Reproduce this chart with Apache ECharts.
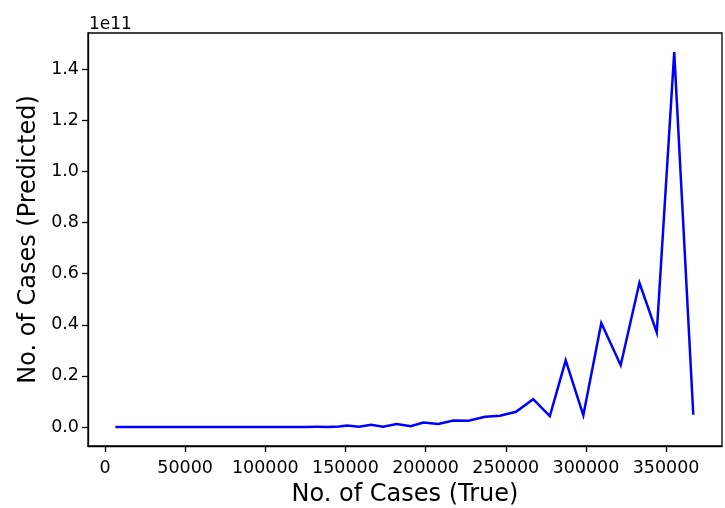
<!DOCTYPE html>
<html>
<head>
<meta charset="utf-8">
<script src="https://cdn.jsdelivr.net/npm/echarts@6/dist/echarts.min.js"></script>
<style>
  html, body { margin: 0; padding: 0; background: #fff; }
  #chart { width: 725px; height: 508px; }
</style>
</head>
<body>
<div id="chart"></div>
<script>
// True case counts (x) and the model's predicted case counts (y)
const trueCases = [
  6500, 10500, 15000, 20500, 27000, 34500, 43000, 52000, 61500, 71000,
  80500, 90000, 99000, 108000, 116500, 124500, 132000, 139000, 146000, 151000,
  158500, 166000, 173500, 182000, 190700, 198600, 207900, 217300, 226700, 237100,
  246400, 256400, 267100, 277500, 287400, 298400, 309600, 321700, 333400, 344200,
  355100, 367000
];
const predictedCases = [
  0, 0, 0, 0, 0, 0, 0, 0, 0, 0,
  0, 0, 0.01e9, 0.02e9, 0.03e9, 0.05e9, 0.08e9, 0.05e9, 0.2e9, 0.6e9,
  0.1e9, 0.9e9, 0.1e9, 1.2e9, 0.3e9, 1.8e9, 1.2e9, 2.6e9, 2.5e9, 4.0e9,
  4.4e9, 6.0e9, 10.9e9, 4.3e9, 26.1e9, 4.6e9, 40.7e9, 24.2e9, 56.4e9, 37.0e9,
  146.6e9, 4.8e9
];

// Tick positions
const xTicks = [0, 50000, 100000, 150000, 200000, 250000, 300000, 350000];
const yTicks = [0, 0.2e11, 0.4e11, 0.6e11, 0.8e11, 1.0e11, 1.2e11, 1.4e11];

const FONT = 'DejaVu Sans';
const chart = echarts.init(document.getElementById('chart'), null, { renderer: 'canvas' });

chart.setOption({
  animation: false,
  backgroundColor: '#fff',
  title: {
    text: '1e11',
    left: 84,
    top: 11,
    textStyle: { fontFamily: FONT, fontSize: 17, fontWeight: 'normal', color: '#000' }
  },
  grid: {
    left: 88, right: 3, top: 33, bottom: 62,
    outerBoundsMode: 'none',
    containLabel: false,
    show: true, borderColor: '#000', borderWidth: 1.3, backgroundColor: 'transparent'
  },
  xAxis: {
    type: 'value',
    min: -10600,
    max: 384900,
    name: 'No. of Cases (True)',
    nameLocation: 'middle',
    nameGap: 37,
    nameTextStyle: { fontFamily: FONT, fontSize: 24, color: '#000' },
    axisLine: { show: true, onZero: false, lineStyle: { color: '#000', width: 1.3 } },
    axisTick: { show: true, inside: false, customValues: xTicks, length: 6, lineStyle: { color: '#000', width: 1.3 } },
    axisLabel: {
      customValues: xTicks,
      fontFamily: FONT, fontSize: 17.5, color: '#000', margin: 13,
      formatter: v => String(v)
    },
    splitLine: { show: false }
  },
  yAxis: {
    type: 'value',
    min: -7.4e9,
    max: 154.1e9,
    name: 'No. of Cases (Predicted)',
    nameLocation: 'middle',
    nameGap: 47,
    nameTextStyle: { fontFamily: FONT, fontSize: 24, color: '#000' },
    axisLine: { show: true, onZero: false, lineStyle: { color: '#000', width: 1.3 } },
    axisTick: { show: true, inside: false, customValues: yTicks, length: 6, lineStyle: { color: '#000', width: 1.3 } },
    axisLabel: {
      customValues: yTicks,
      fontFamily: FONT, fontSize: 17.5, color: '#000', margin: 9,
      formatter: v => (v / 1e11).toFixed(1)
    },
    splitLine: { show: false }
  },
  series: [{
    type: 'line',
    data: trueCases.map((x, i) => [x, predictedCases[i]]),
    showSymbol: false,
    lineStyle: { color: '#0000ff', width: 2.5, join: 'miter' },
    itemStyle: { color: '#0000ff' }
  }]
});
</script>
</body>
</html>
